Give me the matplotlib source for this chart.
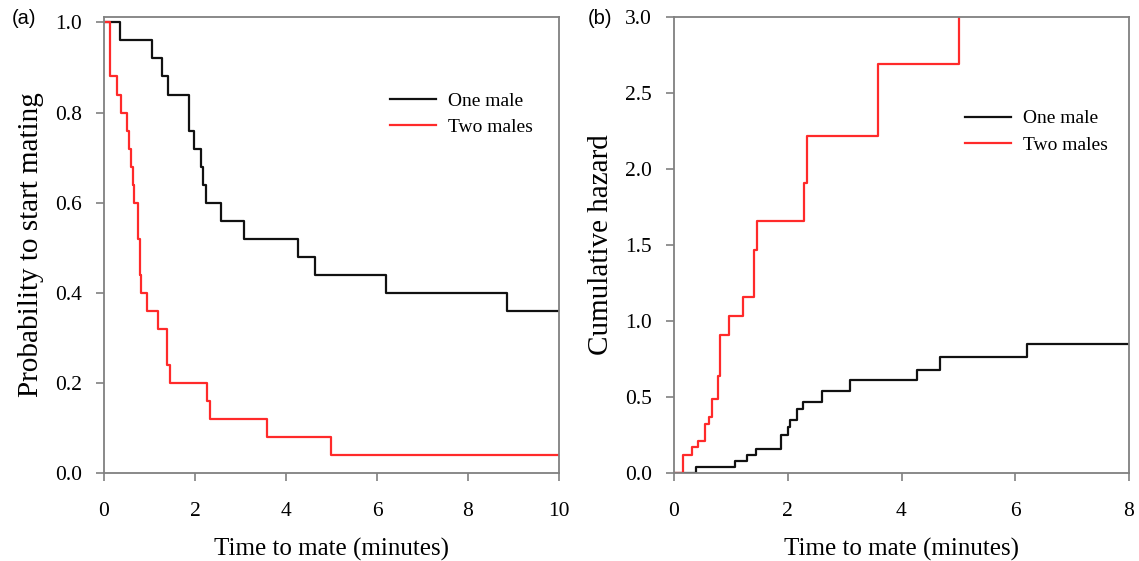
import matplotlib
matplotlib.use("Agg")
import matplotlib.pyplot as plt

# (a) Kaplan-Meier: probability to start mating
one_male_t = [0, 0.35, 1.06, 1.27, 1.41, 1.87, 1.98, 2.13, 2.18, 2.24, 2.58, 3.08, 4.27, 4.64, 6.19, 8.85, 10]
one_male_s = [1.0, 0.96, 0.92, 0.88, 0.84, 0.76, 0.72, 0.68, 0.64, 0.60, 0.56, 0.52, 0.48, 0.44, 0.40, 0.36, 0.36]

two_males_t = [0, 0.13, 0.29, 0.37, 0.51, 0.55, 0.60, 0.64, 0.66, 0.74, 0.75, 0.79, 0.80, 0.82, 0.94,
               1.19, 1.39, 1.45, 2.27, 2.33, 3.59, 4.99, 10]
two_males_s = [1.0, 0.88, 0.84, 0.80, 0.76, 0.72, 0.68, 0.64, 0.60, 0.56, 0.52, 0.48, 0.44, 0.40, 0.36,
               0.32, 0.24, 0.20, 0.16, 0.12, 0.08, 0.04, 0.04]

# (b) cumulative hazard
one_male_ht = [0, 0.38, 1.08, 1.29, 1.44, 1.88, 2.00, 2.04, 2.17, 2.26, 2.61, 3.09, 4.28, 4.67, 6.20, 8]
one_male_h = [0, 0.04, 0.08, 0.12, 0.16, 0.25, 0.30, 0.35, 0.42, 0.47, 0.54, 0.61, 0.68, 0.76, 0.85, 0.85]

two_males_ht = [0, 0.15, 0.31, 0.42, 0.55, 0.62, 0.66, 0.77, 0.81, 0.96, 1.21, 1.41, 1.46, 2.29, 2.33, 3.59, 5.01]
two_males_h = [0, 0.12, 0.17, 0.21, 0.32, 0.37, 0.49, 0.64, 0.91, 1.03, 1.16, 1.47, 1.66, 1.91, 2.22, 2.69, 3.3]

serif = ["Liberation Serif", "DejaVu Serif"]
plt.rcParams["font.family"] = serif
BLACK = "#111111"
RED = "#ff2a2a"
SPINE = "#808080"

fig = plt.figure(figsize=(11.39, 5.61), dpi=100)
ax1 = fig.add_axes([104 / 1139, 88 / 561, 455 / 1139, 456 / 561])
ax2 = fig.add_axes([674 / 1139, 88 / 561, 455 / 1139, 456 / 561])


def style(ax):
    for sp in ax.spines.values():
        sp.set_color(SPINE)
        sp.set_linewidth(1.3)
    ax.tick_params(direction="out", length=6, width=1.2, color=SPINE, labelsize=15.5)
    ax.tick_params(axis="x", pad=15)
    ax.tick_params(axis="y", pad=10)


legend_kw = dict(frameon=False, fontsize=14, handlelength=2.4, handletextpad=0.6,
                 labelspacing=0.45, borderpad=0)

ax1.plot(one_male_t, one_male_s, drawstyle="steps-post", color=BLACK, lw=1.6, label="One male")
ax1.plot(two_males_t, two_males_s, drawstyle="steps-post", color=RED, lw=1.6, label="Two males")
ax1.set_xlim(0, 10)
ax1.set_ylim(0, 1.012)
ax1.set_xticks(range(0, 11, 2))
ax1.set_yticks([0, 0.2, 0.4, 0.6, 0.8, 1.0])
ax1.set_yticklabels([f"{v:.1f}" for v in [0, 0.2, 0.4, 0.6, 0.8, 1.0]])
ax1.set_xlabel("Time to mate (minutes)", fontsize=18, labelpad=12)
ax1.set_ylabel("Probability to start mating", fontsize=21, labelpad=8)
style(ax1)
ax1.legend(loc="upper right", bbox_to_anchor=(0.964, 0.857), **legend_kw)

ax2.plot(one_male_ht, one_male_h, drawstyle="steps-post", color=BLACK, lw=1.6, label="One male")
ax2.plot(two_males_ht, two_males_h, drawstyle="steps-post", color=RED, lw=1.6, label="Two males")
ax2.set_xlim(0, 8)
ax2.set_ylim(0, 3.0)
ax2.set_xticks(range(0, 9, 2))
ax2.set_yticks([0, 0.5, 1.0, 1.5, 2.0, 2.5, 3.0])
ax2.set_yticklabels([f"{v:.1f}" for v in [0, 0.5, 1.0, 1.5, 2.0, 2.5, 3.0]])
ax2.set_xlabel("Time to mate (minutes)", fontsize=18, labelpad=12)
ax2.set_ylabel("Cumulative hazard", fontsize=21, labelpad=8)
style(ax2)
ax2.legend(loc="upper right", bbox_to_anchor=(0.975, 0.818), **legend_kw)

fig.text(12 / 1139, 1 - 18 / 561, "(a)", fontsize=14.5, family=["Liberation Sans", "DejaVu Sans"],
         ha="left", va="center")
fig.text(588 / 1139, 1 - 18 / 561, "(b)", fontsize=14.5, family=["Liberation Sans", "DejaVu Sans"],
         ha="left", va="center")

fig.savefig("out.png", dpi=100)
